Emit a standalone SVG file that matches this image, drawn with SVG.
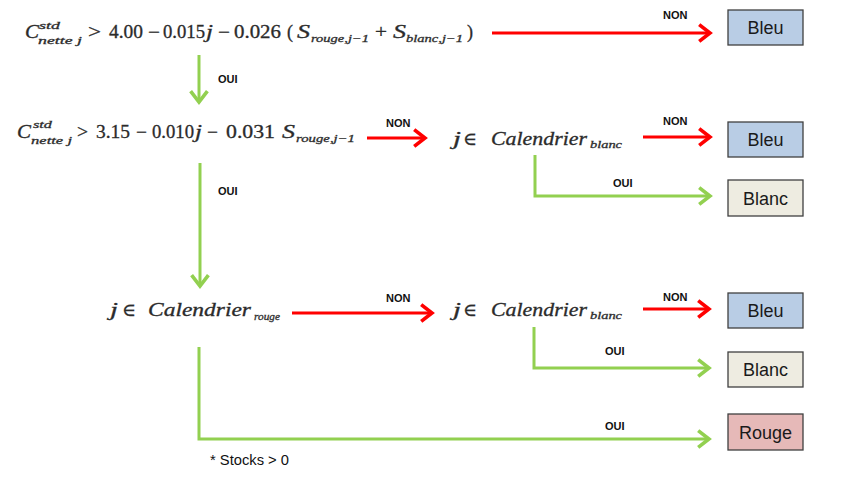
<svg xmlns="http://www.w3.org/2000/svg" width="846" height="487" viewBox="0 0 846 487">
<style>
.m{font-family:"Liberation Serif","DejaVu Serif",serif;font-size:18px;fill:#2b2b2b;stroke:#2b2b2b;stroke-width:0.3;}
.i{font-style:italic;}
.s{font-size:11px;font-style:italic;}
.lbl{font-family:"Liberation Sans",Arial,sans-serif;font-size:11px;font-weight:bold;fill:#111;}
.box{stroke:#404040;stroke-width:1.3;}
.bt{font-family:"Liberation Sans",Arial,sans-serif;font-size:18px;fill:#1a1a1a;text-anchor:middle;}
.red{stroke:#ff0000;stroke-width:3;fill:none;marker-end:url(#arR);}
.grn{stroke:#92d050;stroke-width:3;fill:none;marker-end:url(#arG);}
.note{font-family:"Liberation Sans",Arial,sans-serif;font-size:14px;fill:#111;}
</style>
<defs>
<marker id="arR" markerUnits="userSpaceOnUse" markerWidth="24" markerHeight="24" viewBox="-12 -10 16 20" refX="0" refY="0" orient="auto" overflow="visible">
<path d="M-9,-7 L0,0 L-9,7" fill="none" stroke="#ff0000" stroke-width="3"/>
</marker>
<marker id="arG" markerUnits="userSpaceOnUse" markerWidth="24" markerHeight="24" viewBox="-12 -10 16 20" refX="0" refY="0" orient="auto" overflow="visible">
<path d="M-9,-7 L0,0 L-9,7" fill="none" stroke="#92d050" stroke-width="3"/>
</marker>
</defs>
<rect width="846" height="487" fill="#ffffff"/>

<g id="cond1">
<text class="m i" x="25" y="38" textLength="14" lengthAdjust="spacingAndGlyphs">C</text>
<text class="m s" x="39" y="29" textLength="21" lengthAdjust="spacingAndGlyphs">std</text>
<text class="m s" x="38" y="44" textLength="44" lengthAdjust="spacingAndGlyphs">nette  j</text>
<text class="m" x="88" y="38" textLength="13" lengthAdjust="spacingAndGlyphs">&gt;</text>
<text class="m" x="109" y="38" textLength="34" lengthAdjust="spacingAndGlyphs">4.00</text>
<text class="m" x="148" y="38" textLength="12" lengthAdjust="spacingAndGlyphs">−</text>
<text class="m" x="163" y="38" textLength="42" lengthAdjust="spacingAndGlyphs">0.015</text>
<text class="m i" x="206" y="38" textLength="7" lengthAdjust="spacingAndGlyphs">j</text>
<text class="m" x="218" y="38" textLength="12" lengthAdjust="spacingAndGlyphs">−</text>
<text class="m" x="234" y="38" textLength="47" lengthAdjust="spacingAndGlyphs">0.026</text>
<text class="m" x="287" y="38" textLength="6" lengthAdjust="spacingAndGlyphs">(</text>
<text class="m i" x="297" y="38" textLength="13" lengthAdjust="spacingAndGlyphs">S</text>
<text class="m s" x="311" y="42" textLength="58" lengthAdjust="spacingAndGlyphs">rouge,j−1</text>
<text class="m" x="375" y="38" textLength="12" lengthAdjust="spacingAndGlyphs">+</text>
<text class="m i" x="393" y="38" textLength="13" lengthAdjust="spacingAndGlyphs">S</text>
<text class="m s" x="406" y="42" textLength="57" lengthAdjust="spacingAndGlyphs">blanc,j−1</text>
<text class="m" x="467" y="38" textLength="6" lengthAdjust="spacingAndGlyphs">)</text>
</g>

<g id="cond2">
<text class="m i" x="17" y="138" textLength="14" lengthAdjust="spacingAndGlyphs">C</text>
<text class="m s" x="33" y="128" textLength="19" lengthAdjust="spacingAndGlyphs">std</text>
<text class="m s" x="31" y="144" textLength="41" lengthAdjust="spacingAndGlyphs">nette  j</text>
<text class="m" x="77" y="138" textLength="11" lengthAdjust="spacingAndGlyphs">&gt;</text>
<text class="m" x="96" y="138" textLength="34" lengthAdjust="spacingAndGlyphs">3.15</text>
<text class="m" x="136" y="138" textLength="11" lengthAdjust="spacingAndGlyphs">−</text>
<text class="m" x="152" y="138" textLength="42" lengthAdjust="spacingAndGlyphs">0.010</text>
<text class="m i" x="195" y="138" textLength="7" lengthAdjust="spacingAndGlyphs">j</text>
<text class="m" x="207" y="138" textLength="11" lengthAdjust="spacingAndGlyphs">−</text>
<text class="m" x="226" y="138" textLength="49" lengthAdjust="spacingAndGlyphs">0.031</text>
<text class="m i" x="282" y="138" textLength="13" lengthAdjust="spacingAndGlyphs">S</text>
<text class="m s" x="296" y="142" textLength="59" lengthAdjust="spacingAndGlyphs">rouge,j−1</text>
</g>

<g id="calBlanc1">
<text class="m i" x="453" y="145" textLength="8" lengthAdjust="spacingAndGlyphs">j</text>
<text class="m" x="463" y="145" textLength="14" lengthAdjust="spacingAndGlyphs">∈</text>
<text class="m i" x="491" y="145" textLength="96" lengthAdjust="spacingAndGlyphs">Calendrier</text>
<text class="m s" x="590" y="148" textLength="32" lengthAdjust="spacingAndGlyphs">blanc</text>
</g>

<g id="calRouge">
<text class="m i" x="110" y="316" textLength="8" lengthAdjust="spacingAndGlyphs">j</text>
<text class="m" x="122" y="316" textLength="14" lengthAdjust="spacingAndGlyphs">∈</text>
<text class="m i" x="148" y="316" textLength="103" lengthAdjust="spacingAndGlyphs">Calendrier</text>
<text class="m s" x="254" y="320" textLength="26" lengthAdjust="spacingAndGlyphs">rouge</text>
</g>

<g id="calBlanc2">
<text class="m i" x="453" y="316" textLength="8" lengthAdjust="spacingAndGlyphs">j</text>
<text class="m" x="463" y="316" textLength="14" lengthAdjust="spacingAndGlyphs">∈</text>
<text class="m i" x="491" y="316" textLength="96" lengthAdjust="spacingAndGlyphs">Calendrier</text>
<text class="m s" x="590" y="319" textLength="32" lengthAdjust="spacingAndGlyphs">blanc</text>
</g>

<g id="bleu1"><rect class="box" x="728" y="10" width="75" height="35" fill="#b9cde5"/><text class="bt" x="765.5" y="34">Bleu</text></g>
<g id="bleu2"><rect class="box" x="728" y="122" width="75" height="35" fill="#b9cde5"/><text class="bt" x="765.5" y="146">Bleu</text></g>
<g id="blanc2"><rect class="box" x="728" y="180" width="75" height="36" fill="#eeece1"/><text class="bt" x="765.5" y="205">Blanc</text></g>
<g id="bleu3"><rect class="box" x="728" y="293" width="75" height="35" fill="#b9cde5"/><text class="bt" x="765.5" y="317">Bleu</text></g>
<g id="blanc3"><rect class="box" x="728" y="352" width="75" height="35" fill="#eeece1"/><text class="bt" x="765.5" y="376">Blanc</text></g>
<g id="rouge"><rect class="box" x="728" y="414" width="75" height="36" fill="#e6b9b8"/><text class="bt" x="765.5" y="439">Rouge</text></g>

<g id="connectors">
<path class="red" d="M492,33 H710"/>
<path class="grn" d="M199,55 V102"/>
<path class="red" d="M367,138 H425"/>
<path class="red" d="M643,137 H710"/>
<path class="grn" d="M535,155 V196 H710"/>
<path class="grn" d="M200,163 V286"/>
<path class="red" d="M292,313 H432"/>
<path class="red" d="M643,309 H709"/>
<path class="grn" d="M534,327 V368 H709"/>
<path class="grn" d="M199,347 V439 H709"/>
<text class="lbl" x="663" y="19">NON</text>
<text class="lbl" x="218" y="83">OUI</text>
<text class="lbl" x="386" y="127">NON</text>
<text class="lbl" x="663" y="125">NON</text>
<text class="lbl" x="613" y="187">OUI</text>
<text class="lbl" x="218" y="195">OUI</text>
<text class="lbl" x="386" y="302">NON</text>
<text class="lbl" x="663" y="301">NON</text>
<text class="lbl" x="605" y="355">OUI</text>
<text class="lbl" x="605" y="430">OUI</text>
</g>

<text class="note" x="210" y="465" textLength="79" lengthAdjust="spacingAndGlyphs">* Stocks &gt; 0</text>
</svg>
